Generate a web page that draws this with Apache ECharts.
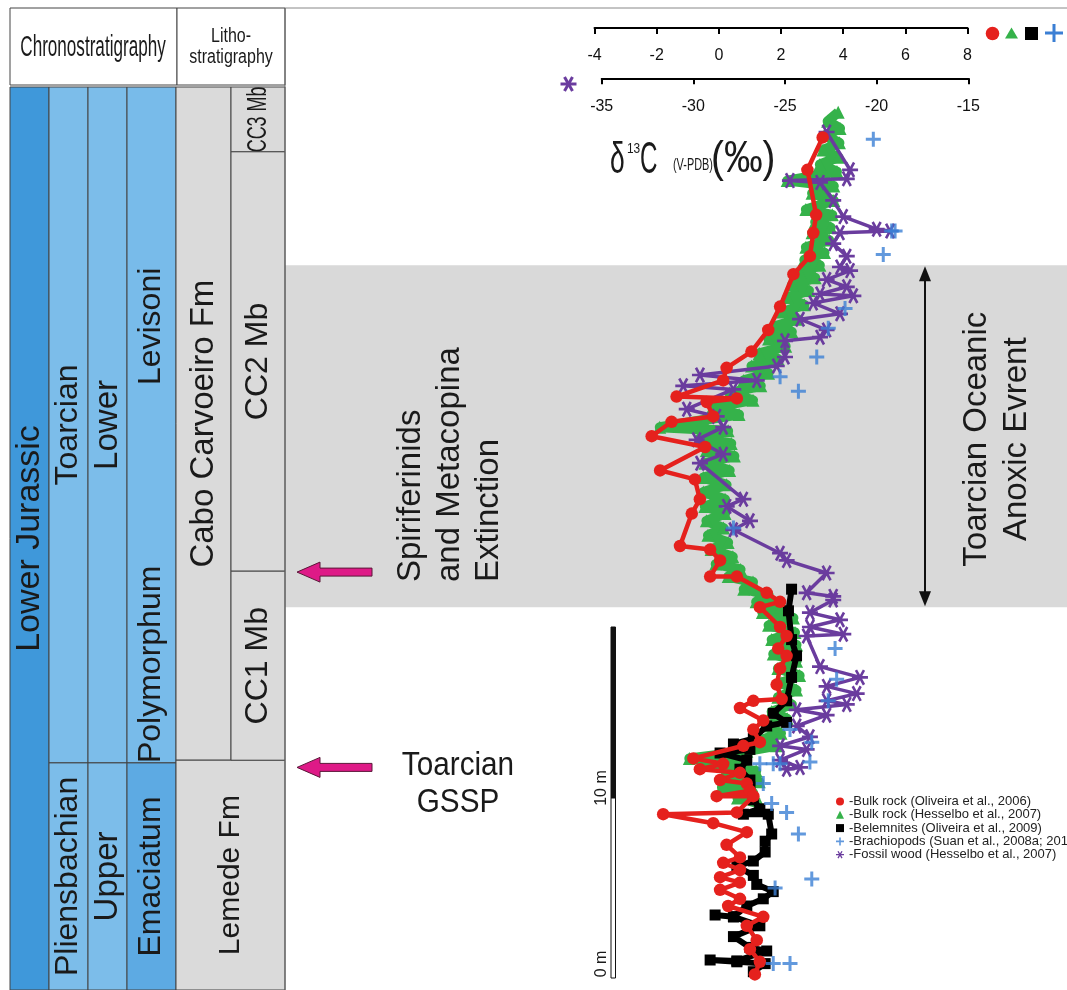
<!DOCTYPE html>
<html><head><meta charset="utf-8">
<script src="https://cdn.jsdelivr.net/npm/echarts@6/dist/echarts.min.js"></script>
<style>html,body{margin:0;padding:0;background:#fff}#c{width:1067px;height:990px}</style>
</head><body><div id="c"></div>
<script>
// ---------------- DATA (δ13C value, height in m) ----------------
const bulkOliveira = [[3.34,46.7],[2.85,44.9],[3.13,42.4],[3.04,41.4],[2.93,40.1],[2.40,39.1],[1.97,37.3],[1.59,36.0],[1.05,34.8],[0.25,33.9],[0.14,33.2],[-1.36,32.3],[0.58,32.2],[-0.39,32.0],[-0.18,31.2],[-1.52,30.9],[-2.16,30.1],[-0.44,29.5],[-1.89,28.2],[-0.77,27.7],[-0.61,26.6],[-0.87,25.8],[-1.25,24.0],[-0.28,23.8],[0.04,23.2],[-0.28,22.3],[0.58,22.3],[1.54,21.4],[1.97,20.9],[1.32,20.6],[1.97,19.5],[2.18,19.0],[1.91,18.3],[2.18,17.9],[1.97,17.2],[1.86,16.3],[2.02,15.5],[1.11,15.4],[0.68,15.0],[1.43,14.3],[1.11,13.8],[1.32,13.1],[0.79,12.9],[-0.82,12.2],[0.14,11.9],[-0.61,11.6],[0.68,11.4],[0.04,11.0],[0.90,10.8],[1.0,10.4],[-0.07,10.1],[1.11,10.1],[0.58,9.2],[-1.79,9.1],[-0.18,8.6],[0.90,8.1],[0.25,7.4],[0.68,6.7],[0.14,6.4],[0.68,6.0],[0.04,5.6],[0.68,5.3],[0.04,4.9],[0.68,4.4],[0.30,4.0],[1.43,3.4],[0.90,2.9],[1.22,2.1],[1.0,1.6],[1.32,0.9],[1.16,0.2]];
const bulkHesselbo = [[3.84,48.1],[3.5,47.6],[3.9,47.2],[3.4,46.8],[3.88,46.4],[3.35,46.0],[3.85,45.6],[3.25,45.2],[3.8,44.8],[2.2,44.3],[3.7,44.0],[3.0,43.6],[3.7,43.2],[2.8,42.7],[3.65,42.4],[3.1,42.0],[3.6,41.7],[3.0,41.4],[3.55,41.0],[2.8,40.6],[3.4,40.3],[2.75,39.9],[3.25,39.6],[2.6,39.2],[3.1,38.9],[2.35,38.5],[2.9,38.2],[2.2,37.8],[2.75,37.4],[2.05,37.0],[2.55,36.6],[1.8,36.2],[2.35,35.9],[1.6,35.5],[2.15,35.1],[1.3,34.7],[1.9,34.4],[1.05,34.0],[1.6,33.6],[0.8,33.2],[1.35,32.9],[0.35,32.5],[1.1,32.1],[-0.2,31.7],[0.65,31.3],[-0.5,31.0],[-1.9,30.6],[0.3,30.4],[-0.6,30.0],[0.4,29.7],[-0.4,29.3],[0.5,29.0],[-0.45,28.6],[0.35,28.2],[-0.5,27.8],[0.25,27.4],[-0.5,27.0],[0.2,26.6],[-0.45,26.2],[0.2,25.8],[-0.4,25.4],[0.15,25.0],[-0.35,24.6],[0.3,24.2],[-0.25,23.8],[0.45,23.4],[-0.1,23.0],[0.7,22.7],[0.3,22.3],[1.1,22.0],[0.8,21.6],[1.6,21.3],[1.2,20.9],[2.0,20.6],[1.4,20.3],[2.4,20.0],[1.6,19.6],[2.45,19.2],[1.7,18.8],[2.5,18.5],[1.75,18.0],[2.5,17.6],[1.9,17.2],[2.6,16.8],[2.0,16.4],[2.5,16.0],[1.9,15.6],[2.35,15.2],[1.7,14.8],[2.2,14.4],[1.5,14.0],[2.0,13.6],[1.3,13.2],[1.85,12.9],[0.9,12.6],[-0.95,12.2],[0.6,12.0],[-0.5,11.8],[1.2,11.5],[0.2,11.2],[1.3,10.9],[0.1,10.6],[1.1,10.3],[0.6,10.0],[1.3,9.7]];
const belemnites = [[2.34,21.6],[2.24,20.4],[2.34,18.8],[2.5,17.9],[2.34,16.7],[2.18,15.4],[1.75,14.7],[2.18,14.2],[1.54,14.0],[1.11,13.3],[0.47,13.0],[1.0,12.7],[0.04,12.5],[0.9,12.1],[0.68,11.6],[1.0,11.0],[1.0,10.6],[1.11,9.9],[1.32,9.4],[0.79,9.1],[1.59,9.1],[1.70,8.0],[1.49,7.6],[1.49,7.0],[1.11,6.5],[0.58,6.2],[1.11,5.7],[1.22,5.2],[1.75,4.8],[1.43,4.4],[0.90,4.0],[0.47,3.4],[-0.12,3.5],[0.47,3.4],[1.32,2.9],[0.47,2.3],[1.0,1.7],[1.54,1.5],[0.58,0.95],[-0.28,1.0],[0.58,0.9],[1.49,0.8],[1.11,0.35]];
const brachiopods = [[4.97,46.6],[5.56,41.5],[5.67,41.5],[5.29,40.2],[4.06,37.2],[3.52,36.1],[3.15,34.5],[1.97,33.4],[2.56,32.6],[0.47,25.0],[3.74,18.3],[3.79,16.6],[3.52,15.4],[2.29,13.8],[2.99,13.1],[1.32,11.9],[1.75,11.9],[1.97,11.9],[2.93,12.0],[1.43,10.8],[1.70,9.7],[2.18,9.2],[2.56,8.0],[2.99,5.5],[1.81,5.0],[1.75,0.8],[2.29,0.8]];
const fossilWood = [[-22.73,47.0],[-21.45,44.9],[-21.63,44.4],[-24.73,44.3],[-23.09,44.2],[-22.37,43.2],[-21.82,42.3],[-20.0,41.6],[-19.27,41.5],[-22.0,41.4],[-22.37,40.8],[-21.63,40.1],[-22.0,39.5],[-21.45,39.3],[-22.73,38.8],[-21.63,38.4],[-23.09,38.0],[-21.27,37.9],[-23.46,37.5],[-22.0,36.9],[-24.18,36.6],[-22.73,36.0],[-23.09,35.6],[-25.0,35.4],[-25.0,34.5],[-25.45,34.0],[-29.64,33.5],[-26.54,33.2],[-30.55,32.9],[-27.82,32.7],[-30.36,31.6],[-28.73,31.2],[-28.37,30.6],[-29.82,29.9],[-28.37,29.1],[-29.64,28.6],[-27.27,26.6],[-28.18,26.2],[-26.91,25.4],[-27.82,24.9],[-25.27,23.6],[-24.91,23.2],[-22.73,22.5],[-23.82,21.4],[-22.37,21.2],[-22.37,21.0],[-23.64,20.3],[-22.0,19.9],[-23.64,19.5],[-21.82,19.1],[-23.82,19.0],[-23.09,17.3],[-20.91,16.7],[-22.73,16.2],[-21.09,15.8],[-22.73,15.4],[-21.63,15.2],[-24.36,14.9],[-22.73,14.6],[-24.36,14.0],[-23.64,13.4],[-25.27,12.9],[-23.82,12.7],[-25.27,12.1],[-24.18,11.7],[-24.91,11.6]];

// axis ranges / ticks
const carbonAxis = [-4, 8, 2];      // min, max, interval
const woodAxis = [-35, -15, 5];
const heightRange = [-0.5, 53];

// series names (legend)
const seriesNames = ['-Bulk rock (Oliveira et al., 2006)','-Bulk rock (Hesselbo et al., 2007)','-Belemnites (Oliveira et al., 2009)','-Brachiopods (Suan et al., 2008a; 2010)','-Fossil wood (Hesselbo et al., 2007)'];

// stratigraphy (heights in m)
const columnTop = 49.5;
const stageUnits = [['Toarcian', 11.95, 49.5], ['Pliensbachian', -0.7, 11.95]];
const substageUnits = [['Lower', 11.95, 49.5], ['Upper', -0.7, 11.95]];
const zoneUnits = [['Levisoni', 22.9, 49.5], ['Polymorphum', 11.95, 22.9], ['Emaciatum', -0.7, 11.95]];
const formationUnits = [['Cabo Carvoeiro Fm', 12.1, 49.5], ['Lemede Fm', -0.7, 12.1]];
const memberUnits = [['CC3 Mb', 45.9, 49.5], ['CC2 Mb', 22.6, 45.9], ['CC1 Mb', 12.1, 22.6]];
const toaeRange = [20.6, 39.6];
const events = [['Spiriferinids\nand Metacopina\nExtinction', 22.55], ['Toarcian\nGSSP', 11.7]];
const scaleBar = [0, 10, 19.5];

// ---------------- STYLE ----------------
const C = {red:'#e5211d', green:'#35b24a', black:'#000', blue:'#3b7fd4', purple:'#6a3c9e'};
const FONT = 'Liberation Sans, Arial, sans-serif';
const PLUS = 'path://M-1.6,-8H1.6V-1.6H8V1.6H1.6V8H-1.6V1.6H-8V-1.6H-1.6Z';
const STAR = 'path://M-10,-1.6L10,-1.6L10,1.6L-10,1.6Z M-3.6,-9.5L6.4,7.8L3.6,9.5L-6.4,-7.8Z M-6.4,7.8L3.6,-9.5L6.4,-7.8L-3.6,9.5Z';

function topAxis(gridIndex, r, offset) {
  return {
    gridIndex, type:'value', min:r[0], max:r[1], interval:r[2], position:'top', offset,
    axisLine:{show:true, onZero:false, lineStyle:{color:'#000', width:2}},
    axisTick:{show:true, inside:true, length:6, lineStyle:{color:'#000', width:2}},
    axisLabel:{inside:true, margin:20, fontSize:16, fontFamily:FONT, color:'#111'},
    splitLine:{show:false}
  };
}
function hAxis(gridIndex) {
  return {gridIndex, type:'value', min:heightRange[0], max:heightRange[1], show:false, splitLine:{show:false}};
}

const option = {
  animation:false,
  backgroundColor:'#fff',
  grid:[
    {left:594.5, right:99.5, top:24, bottom:3, outerBoundsMode:'none'},
    {left:601.7, right:98.7, top:24, bottom:3, outerBoundsMode:'none'}
  ],
  xAxis:[topAxis(0, carbonAxis, -4), topAxis(1, woodAxis, -54.3)],
  yAxis:[hAxis(0), hAxis(1)],
  legend:{
    orient:'vertical', left:831, top:790, itemWidth:8, itemHeight:8, itemGap:0.3,
    textStyle:{fontSize:13, fontFamily:FONT, color:'#222', lineHeight:13},
    data:[
      {name:seriesNames[0], icon:'circle'},
      {name:seriesNames[1], icon:'triangle'},
      {name:seriesNames[2], icon:'rect'},
      {name:seriesNames[3], icon:PLUS},
      {name:seriesNames[4], icon:STAR}
    ]
  },
  series:[
    {name:seriesNames[1], type:'line', xAxisIndex:0, yAxisIndex:0, data:bulkHesselbo, z:2,
     symbol:'triangle', symbolSize:13, lineStyle:{color:C.green, width:10, join:'round'}, itemStyle:{color:C.green}},
    {name:seriesNames[4], type:'line', xAxisIndex:1, yAxisIndex:1, data:fossilWood, z:3,
     symbol:STAR, symbolSize:16, lineStyle:{color:C.purple, width:3.5}, itemStyle:{color:C.purple}},
    {name:seriesNames[2], type:'line', xAxisIndex:0, yAxisIndex:0, data:belemnites, z:4,
     symbol:'rect', symbolSize:11, lineStyle:{color:C.black, width:6}, itemStyle:{color:C.black}},
    {name:seriesNames[0], type:'line', xAxisIndex:0, yAxisIndex:0, data:bulkOliveira, z:5,
     symbol:'circle', symbolSize:12.5, lineStyle:{color:C.red, width:4.5}, itemStyle:{color:C.red}},
    {name:seriesNames[3], type:'scatter', xAxisIndex:0, yAxisIndex:0, data:brachiopods, z:6,
     symbol:PLUS, symbolSize:15, itemStyle:{color:C.blue}}
  ]
};

const chart = echarts.init(document.getElementById('c'), null, {renderer:'canvas'});
chart.setOption(option);

// ---------------- DECORATION (positions from the height axis) ----------------
const Y = h => chart.convertToPixel({yAxisIndex:0}, h);
const BOTTOM = 990;
const yc = h => (h <= heightRange[0] ? BOTTOM : Y(h));
const colX = [10, 49, 88, 127, 176, 231, 285];
const LINE = '#444';
const g = [];
function rect(x1, y1, x2, y2, fill, stroke, z) {
  g.push({type:'rect', z:z||0, shape:{x:x1, y:y1, width:x2-x1, height:y2-y1}, style:{fill, stroke:stroke||LINE, lineWidth:stroke===null?0:1}});
}
function text(str, x, y, size, opt) {
  opt = opt || {};
  g.push({type:'text', z:opt.z||10, x, y, rotation:opt.rot||0, scaleX:opt.sx||1,
    style:{text:str, fontSize:size, fontFamily:FONT, fill:opt.fill||'#1a1a1a', align:opt.align||'center',
           verticalAlign:opt.va||'middle', lineHeight:opt.lh||size*1.15}});
}
const V = Math.PI/2;

// TOAE grey band
rect(285, Y(toaeRange[1]), 1067, Y(toaeRange[0]), '#d9d9d9', null, -2);

// header
rect(10, 8, 177, 85, '#fff');
rect(177, 8, 285, 85, '#fff');
g.push({type:'line', z:1, shape:{x1:285, y1:8, x2:1067, y2:8}, style:{stroke:'#888', lineWidth:1}});
g.push({type:'line', z:1, shape:{x1:285, y1:8, x2:285, y2:990}, style:{stroke:'#666', lineWidth:1}});
text('Chronostratigraphy', 93, 48, 30, {sx:0.57});
text('Litho-\nstratigraphy', 231, 47, 20, {sx:0.8, lh:21});

// column 1: Lower Jurassic
const colTopPx = Y(columnTop);
rect(colX[0], colTopPx, colX[1], BOTTOM, '#3f98da');
text('Lower Jurassic', (colX[0]+colX[1])/2, (colTopPx+BOTTOM)/2, 34, {rot:V});
stageUnits.forEach(u => { const a=Y(u[2]), b=yc(u[1]); rect(colX[1], a, colX[2], b, '#7cbdea'); text(u[0], (colX[1]+colX[2])/2, (a+b)/2, 32, {rot:V}); });
substageUnits.forEach(u => { const a=Y(u[2]), b=yc(u[1]); rect(colX[2], a, colX[3], b, '#7cbdea'); text(u[0], (colX[2]+colX[3])/2, (a+b)/2, 33, {rot:V}); });
// zones (Levisoni / Polymorphum share one cell)
rect(colX[3], Y(zoneUnits[0][2]), colX[4], Y(zoneUnits[1][1]), '#78bbea');
rect(colX[3], Y(zoneUnits[2][2]), colX[4], BOTTOM, '#5daae3');
zoneUnits.forEach(u => { const a=Y(u[2]), b=yc(u[1]); text(u[0], (colX[3]+colX[4])/2, (a+b)/2, 32, {rot:V}); });
// formations
{ const u=formationUnits[0], a=Y(u[2]), b=Y(u[1]); rect(colX[4], a, colX[5], b, '#dadada'); text(u[0], (colX[4]+colX[5])/2, (a+b)/2, 33, {rot:V}); }
{ const u=formationUnits[1], a=Y(u[2]), b=BOTTOM; rect(colX[4], a, colX[6], b, '#dadada'); text(u[0], (colX[4]+colX[6])/2, (a+b)/2, 30, {rot:V}); }
memberUnits.forEach((u,i) => { const a=Y(u[2]), b=Y(u[1]); rect(colX[5], a, colX[6], b, '#dadada');
  text(u[0], (colX[5]+colX[6])/2, (a+b)/2, i===0?28:32, {rot:V, sx:i===0?0.64:1}); });

// event arrows + labels
events.forEach((e, i) => {
  const y = Y(e[1]);
  g.push({type:'polygon', z:5, shape:{points:[[297,y],[320,y-10],[320,y-4],[372,y-4],[372,y+4],[320,y+4],[320,y+10]]},
    style:{fill:'#de1a87', stroke:'#5a1838', lineWidth:1}});
  if (i === 0) text(e[0], 450, 582, 33, {rot:V, align:'left', lh:39});
  else text(e[0], 458, y+17, 33, {lh:37, sx:0.9});
});

// TOAE double arrow + label
{ const a = Y(toaeRange[1]), b = Y(toaeRange[0]);
  g.push({type:'line', z:5, shape:{x1:925, y1:a+10, x2:925, y2:b-10}, style:{stroke:'#111', lineWidth:2}});
  g.push({type:'polygon', z:5, shape:{points:[[925,a+1],[919,a+16],[931,a+16]]}, style:{fill:'#111'}});
  g.push({type:'polygon', z:5, shape:{points:[[925,b-1],[919,b-16],[931,b-16]]}, style:{fill:'#111'}});
  text('Toarcian Oceanic\nAnoxic Evrent', 997, (a+b)/2+3, 33, {rot:V, lh:40});
}

// scale bar
rect(611, Y(scaleBar[2]), 615.5, Y(scaleBar[1]), '#111', '#111', 5);
rect(611, Y(scaleBar[1]), 615.5, Y(scaleBar[0]), '#fff', '#111', 5);
text('10 m', 602, Y(scaleBar[1]) - 10, 16, {rot:V});
text('0 m', 602, Y(scaleBar[0]) - 14, 16, {rot:V});

// title
text('δ', 610, 161, 44, {align:'left', sx:0.6});
text('13', 627, 149, 14, {align:'left', sx:0.85});
text('C', 640, 161, 44, {align:'left', sx:0.55});
text('(V-PDB)', 673, 166, 16, {align:'left', sx:0.68});
text('(‰)', 711, 160, 44, {align:'left', sx:0.88});

// axis keys
g.push({type:'circle', z:5, shape:{cx:992.5, cy:33.5, r:6.8}, style:{fill:C.red}});
g.push({type:'polygon', z:5, shape:{points:[[1011.5,27.5],[1005,38.5],[1018,38.5]]}, style:{fill:C.green}});
g.push({type:'rect', z:5, shape:{x:1025, y:27, width:13, height:13}, style:{fill:'#000'}});
g.push({type:'polygon', z:5, shape:{points:[[1052.5,24],[1055.5,24],[1055.5,31.5],[1063,31.5],[1063,34.5],[1055.5,34.5],[1055.5,42],[1052.5,42],[1052.5,34.5],[1045,34.5],[1045,31.5],[1052.5,31.5]]}, style:{fill:C.blue}});
[0, Math.PI/3, -Math.PI/3].forEach(ang => {
  const cx=568.5, cy=84, L=8;
  g.push({type:'line', z:5, shape:{x1:cx-L*Math.cos(ang), y1:cy-L*Math.sin(ang), x2:cx+L*Math.cos(ang), y2:cy+L*Math.sin(ang)}, style:{stroke:C.purple, lineWidth:3}});
});

chart.setOption({graphic:{elements:g}});
</script>
</body></html>
